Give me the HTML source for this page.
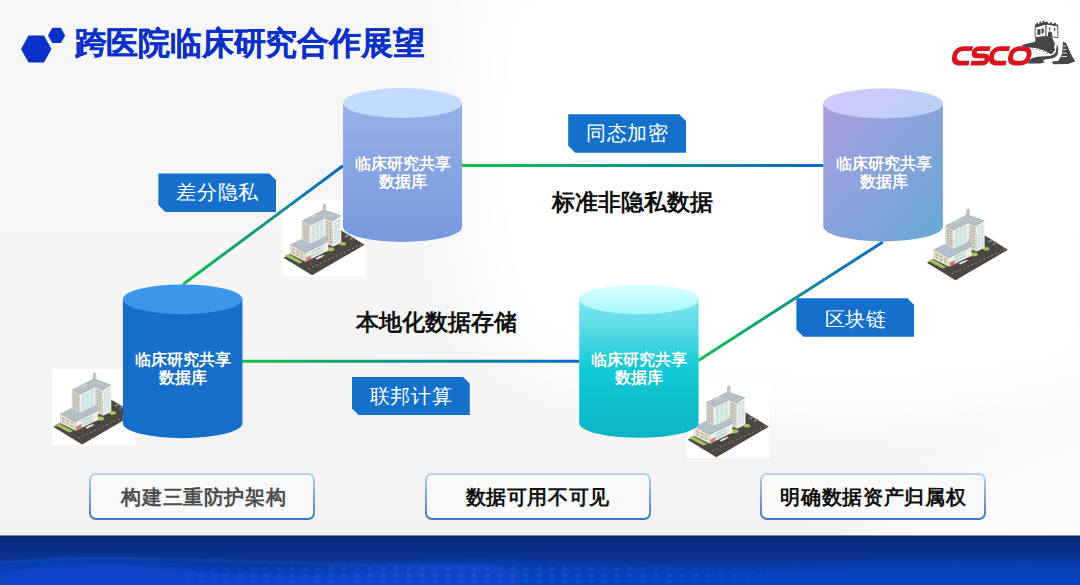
<!DOCTYPE html>
<html><head><meta charset="utf-8">
<style>
*{margin:0;padding:0;box-sizing:border-box}
html,body{width:1080px;height:585px;overflow:hidden}
body{position:relative;font-family:"Liberation Sans",sans-serif;background:#f5f5f5}
#bg{position:absolute;left:0;top:0;width:1080px;height:536px;background:linear-gradient(180deg,#f7f7f7 0%,#f5f5f5 60%,#f2f2f2 100%)}
svg.full{position:absolute;left:0;top:0}
.t{position:absolute;white-space:nowrap;line-height:1}
.title{left:74.5px;top:28.4px;font-size:31.5px;font-weight:bold;color:#0a30c8;letter-spacing:-0.2px;-webkit-text-stroke:0.25px #0a30c8}
.cyl{position:absolute;color:#fff;font-size:15.6px;font-weight:700;text-align:center;line-height:18px;width:120px;text-shadow:0 0 1px rgba(0,0,0,.15)}
.lab{position:absolute;width:118px;height:38.5px;background:#1470cb;color:#fff;font-size:20.4px;letter-spacing:0.6px;text-indent:0.6px;line-height:38.5px;text-align:center;
 clip-path:polygon(0 0,calc(100% - 7px) 0,100% 7px,100% 100%,7px 100%,0 calc(100% - 7px))}
.bold{position:absolute;font-size:22.6px;font-weight:bold;color:#111;line-height:1}
.box{position:absolute;top:473px;width:226px;height:47px;border-radius:7px;
 background:linear-gradient(#fafafa,#f9f9f9);
 border:2px solid transparent;
 background-image:linear-gradient(#f9f9f9,#f9f9f9),linear-gradient(#b9d5f5,#3f78c0);
 background-origin:border-box;background-clip:padding-box,border-box;
 font-size:20.4px;letter-spacing:0.66px;text-indent:0.66px;font-weight:bold;text-align:center;line-height:44px}
#band{position:absolute;left:0;top:536px;width:1080px;height:49px;
 background:linear-gradient(180deg,#0a2b78 0%,#0a2f84 25%,#0a3596 50%,#0a3caa 75%,#0942b8 100%)}
</style></head>
<body>
<div id="bg"></div>
<svg class="full" width="1080" height="536" viewBox="0 0 1080 536">
 <defs><filter id="wb" x="-20%" y="-20%" width="140%" height="140%"><feGaussianBlur stdDeviation="28"/></filter></defs>
 <path d="M480,-40 L1120,-40 L1120,385 C990,425 830,425 720,412 C630,402 560,385 505,355 C455,290 450,140 480,-40 Z" fill="#ffffff" filter="url(#wb)"/>
 <path d="M850,530 C940,470 1010,440 1120,400 L1120,560 L850,560 Z" fill="#ffffff" opacity=".7" filter="url(#wb)"/>
</svg>
<svg class="full" width="1080" height="585" viewBox="0 0 1080 585">
 <defs>
  <linearGradient id="lg1" x1="0" y1="0" x2="1" y2="0"><stop offset="0" stop-color="#12c24a"/><stop offset="1" stop-color="#0a68c8"/></linearGradient>
  <linearGradient id="gA" gradientUnits="userSpaceOnUse" x1="183" y1="284" x2="342" y2="166"><stop offset="0" stop-color="#12c24a"/><stop offset="1" stop-color="#0a68c8"/></linearGradient>
  <linearGradient id="gB" gradientUnits="userSpaceOnUse" x1="461" y1="0" x2="823" y2="0"><stop offset="0" stop-color="#12c24a"/><stop offset="1" stop-color="#0a68c8"/></linearGradient>
  <linearGradient id="gC" gradientUnits="userSpaceOnUse" x1="242" y1="0" x2="579" y2="0"><stop offset="0" stop-color="#12c24a"/><stop offset="1" stop-color="#0a68c8"/></linearGradient>
  <linearGradient id="gD" gradientUnits="userSpaceOnUse" x1="698" y1="360" x2="883" y2="242"><stop offset="0" stop-color="#12c24a"/><stop offset="1" stop-color="#0a68c8"/></linearGradient>
  <!-- cylinder gradients -->
  <linearGradient id="c1b" x1="0" y1="0" x2="0" y2="1"><stop offset="0" stop-color="#98b0e6"/><stop offset="1" stop-color="#7699df"/></linearGradient>
  <linearGradient id="c2b" x1="0" y1="0" x2="1" y2="1"><stop offset="0" stop-color="#aa9ee0"/><stop offset="1" stop-color="#66a8d4"/></linearGradient>
  <linearGradient id="c2t" x1="0" y1="0" x2="1" y2="0.3"><stop offset="0" stop-color="#d3c8fc"/><stop offset=".5" stop-color="#c8cbfc"/><stop offset="1" stop-color="#bcd0f8"/></linearGradient>
  <linearGradient id="c4b" x1="0" y1="0" x2="0" y2="1"><stop offset="0" stop-color="#7ee6ee"/><stop offset=".2" stop-color="#5edbe6"/><stop offset=".5" stop-color="#10cad6"/><stop offset="1" stop-color="#0bb4c4"/></linearGradient>
  <linearGradient id="c4t" x1="0" y1="0" x2="0" y2="1"><stop offset="0" stop-color="#defcfe"/><stop offset="1" stop-color="#a6f9fd"/></linearGradient>
  <g id="bld">
   <rect x="0" y="0" width="83" height="76" fill="#ffffff"/>
   <polygon points="1.3,57.8 29.9,75.3 82.4,44.8 53.9,27.3" fill="#4d4742"/>
   <g stroke="#d6d2ca" stroke-width="0.6" stroke-dasharray="1.4 3"><line x1="26" y1="69" x2="80" y2="44"/></g>
   <polygon points="62,36.5 66,34.2 67.8,35.2 63.8,37.5" fill="#8a8f95"/>
   <polygon points="66.5,39 70.5,36.7 72.3,37.7 68.3,40" fill="#7d838a"/>
   <polygon points="42.8,18.2 50.6,21.4 50.6,46.7 42.8,43.0" fill="#ddd8c9"/>
   <polygon points="50.6,21.4 59.1,16.2 59.1,42.8 50.6,46.7" fill="#f1f0ea"/>
   <g fill="#bfdedf"><polygon points="52.1,22.6 54.4,21.2 54.4,23.2 52.1,24.6"/><polygon points="55.3,20.6 57.6,19.2 57.6,21.3 55.3,22.6"/><polygon points="52.1,25.7 54.4,24.4 54.4,26.4 52.1,27.8"/><polygon points="55.3,23.8 57.6,22.4 57.6,24.4 55.3,25.8"/><polygon points="52.1,28.9 54.4,27.5 54.4,29.6 52.1,31.0"/><polygon points="55.3,26.9 57.6,25.6 57.6,27.6 55.3,29.0"/><polygon points="52.1,32.1 54.4,30.7 54.4,32.8 52.1,34.2"/><polygon points="55.3,30.1 57.6,28.7 57.6,30.8 55.3,32.2"/><polygon points="52.1,35.3 54.4,33.9 54.4,36.0 52.1,37.3"/><polygon points="55.3,33.3 57.6,31.9 57.6,34.0 55.3,35.4"/><polygon points="52.1,38.5 54.4,37.1 54.4,39.1 52.1,40.5"/><polygon points="55.3,36.5 57.6,35.1 57.6,37.2 55.3,38.5"/><polygon points="52.1,41.6 54.4,40.3 54.4,42.3 52.1,43.7"/><polygon points="55.3,39.7 57.6,38.3 57.6,40.3 55.3,41.7"/></g>
   <g fill="#aab0aa"><polygon points="44.4,21.0 46.2,21.7 46.2,23.6 44.4,22.8"/><polygon points="47.2,22.1 49.0,22.9 49.0,24.7 47.2,24.0"/><polygon points="44.4,24.1 46.2,24.8 46.2,26.7 44.4,25.9"/><polygon points="47.2,25.2 49.0,26.0 49.0,27.9 47.2,27.1"/><polygon points="44.4,27.2 46.2,27.9 46.2,29.8 44.4,29.1"/><polygon points="47.2,28.3 49.0,29.1 49.0,31.0 47.2,30.2"/><polygon points="44.4,30.3 46.2,31.1 46.2,32.9 44.4,32.2"/><polygon points="47.2,31.5 49.0,32.2 49.0,34.1 47.2,33.3"/><polygon points="44.4,33.4 46.2,34.2 46.2,36.1 44.4,35.3"/><polygon points="47.2,34.6 49.0,35.3 49.0,37.2 47.2,36.5"/><polygon points="44.4,36.5 46.2,37.3 46.2,39.2 44.4,38.4"/><polygon points="47.2,37.7 49.0,38.5 49.0,40.3 47.2,39.6"/><polygon points="44.4,39.7 46.2,40.4 46.2,42.3 44.4,41.5"/><polygon points="47.2,40.8 49.0,41.6 49.0,43.4 47.2,42.7"/></g>
   <polygon points="2.5,56 17,63.5 21,62 6,54" fill="#9cc35f"/>
   <ellipse cx="48" cy="49.3" rx="4" ry="2" fill="#a2c766"/>
   <ellipse cx="60.5" cy="43.8" rx="3.4" ry="1.8" fill="#a2c766"/>
   <ellipse cx="44" cy="51" rx="1.6" ry="1" fill="#d9954f"/>
   <polygon points="7.5,44.8 23.4,52.6 23.4,61.7 7.5,54.0" fill="#e6dfcd"/>
   <polygon points="23.4,52.6 46.1,41.5 46.1,50.6 23.4,61.7" fill="#f0ede4"/>
   <polygon points="7.5,44.8 30.2,33.7 42.8,35.9 46.1,38.6 46.1,41.5 23.4,52.6" fill="#aab8c3"/>
   <polygon points="8.8,44.8 30.2,34.4 42.6,36.6 45.2,39 45.2,41.5 23.4,51.8" fill="#b3c0ca"/>
   <g fill="#acd6d6"><polygon points="29.3,51.4 31.1,50.5 31.1,52.8 29.3,53.7"/><polygon points="31.6,50.3 33.4,49.4 33.4,51.7 31.6,52.5"/><polygon points="33.8,49.2 35.7,48.3 35.7,50.6 33.8,51.4"/><polygon points="36.1,48.1 37.9,47.2 37.9,49.4 36.1,50.3"/><polygon points="38.4,47.0 40.2,46.1 40.2,48.3 38.4,49.2"/><polygon points="29.3,54.9 31.1,54.0 31.1,56.2 29.3,57.1"/><polygon points="31.6,53.8 33.4,52.9 33.4,55.1 31.6,56.0"/><polygon points="33.8,52.6 35.7,51.8 35.7,54.0 33.8,54.9"/><polygon points="36.1,51.5 37.9,50.7 37.9,52.9 36.1,53.8"/><polygon points="38.4,50.4 40.2,49.5 40.2,51.8 38.4,52.7"/></g>
   <g fill="#b5b1a3"><polygon points="9.9,48.1 12.5,49.3 12.5,51.1 9.9,49.9"/><polygon points="14.2,50.2 16.7,51.4 16.7,53.2 14.2,52.0"/><polygon points="18.4,52.3 21.0,53.5 21.0,55.3 18.4,54.0"/><polygon points="9.9,51.3 12.5,52.6 12.5,54.3 9.9,53.1"/><polygon points="14.2,53.4 16.7,54.6 16.7,56.4 14.2,55.2"/><polygon points="18.4,55.5 21.0,56.7 21.0,58.5 18.4,57.3"/></g>
   <polygon points="24,57.5 29,55 29,59.2 24,61.6" fill="#c98078"/>
   <polygon points="33,58.5 37.5,56 39.5,57 35,59.6" fill="#ececec"/>
   <polygon points="36.5,57 40.5,54.8 42.2,55.8 38.2,58" fill="#dedede"/>
   <polygon points="19.5,20.8 27.9,25.3 27.9,43.5 19.5,39.3" fill="#dcd7c7"/>
   <polygon points="27.9,25.3 42.8,18.2 42.8,36.2 27.9,43.5" fill="#f2f1ea"/>
   <g fill="#bcdfe0"><polygon points="29.5,25.8 32.8,24.2 32.8,25.8 29.5,27.4"/><polygon points="33.7,23.8 37.0,22.2 37.0,23.9 33.7,25.4"/><polygon points="37.9,21.8 41.2,20.2 41.2,21.9 37.9,23.5"/><polygon points="29.5,28.1 32.8,26.5 32.8,28.2 29.5,29.8"/><polygon points="33.7,26.1 37.0,24.6 37.0,26.2 33.7,27.8"/><polygon points="37.9,24.2 41.2,22.6 41.2,24.2 37.9,25.8"/><polygon points="29.5,30.5 32.8,28.9 32.8,30.5 29.5,32.1"/><polygon points="33.7,28.5 37.0,26.9 37.0,28.5 33.7,30.1"/><polygon points="37.9,26.5 41.2,24.9 41.2,26.5 37.9,28.1"/><polygon points="29.5,32.8 32.8,31.2 32.8,32.9 29.5,34.5"/><polygon points="33.7,30.8 37.0,29.2 37.0,30.9 33.7,32.5"/><polygon points="37.9,28.8 41.2,27.2 41.2,28.9 37.9,30.5"/><polygon points="29.5,35.2 32.8,33.6 32.8,35.2 29.5,36.8"/><polygon points="33.7,33.2 37.0,31.6 37.0,33.2 33.7,34.8"/><polygon points="37.9,31.2 41.2,29.6 41.2,31.2 37.9,32.8"/><polygon points="29.5,37.5 32.8,35.9 32.8,37.5 29.5,39.1"/><polygon points="33.7,35.5 37.0,33.9 37.0,35.6 33.7,37.1"/><polygon points="37.9,33.5 41.2,31.9 41.2,33.6 37.9,35.2"/><polygon points="29.5,39.8 32.8,38.2 32.8,39.9 29.5,41.5"/><polygon points="33.7,37.8 37.0,36.3 37.0,37.9 33.7,39.5"/><polygon points="37.9,35.9 41.2,34.3 41.2,35.9 37.9,37.5"/></g>
   <g fill="#a9aea8"><polygon points="21.2,23.1 23.2,24.2 23.2,25.6 21.2,24.5"/><polygon points="24.2,24.7 26.2,25.8 26.2,27.2 24.2,26.2"/><polygon points="21.2,25.5 23.2,26.5 23.2,28.0 21.2,26.9"/><polygon points="24.2,27.1 26.2,28.2 26.2,29.6 24.2,28.5"/><polygon points="21.2,27.9 23.2,28.9 23.2,30.4 21.2,29.3"/><polygon points="24.2,29.5 26.2,30.5 26.2,32.0 24.2,30.9"/><polygon points="21.2,30.2 23.2,31.3 23.2,32.7 21.2,31.7"/><polygon points="24.2,31.9 26.2,32.9 26.2,34.4 24.2,33.3"/><polygon points="21.2,32.6 23.2,33.7 23.2,35.1 21.2,34.1"/><polygon points="24.2,34.2 26.2,35.3 26.2,36.7 24.2,35.7"/><polygon points="21.2,35.0 23.2,36.1 23.2,37.5 21.2,36.4"/><polygon points="24.2,36.6 26.2,37.7 26.2,39.1 24.2,38.1"/><polygon points="21.2,37.4 23.2,38.4 23.2,39.9 21.2,38.8"/><polygon points="24.2,39.0 26.2,40.1 26.2,41.5 24.2,40.4"/></g>
   <polygon points="19.5,20.8 41.5,9.5 59.1,15.6 50.6,21.4 42.8,18.2 27.9,25.3" fill="#a5b2bb"/>
   <polygon points="21.2,20.7 41.5,10.3 57.3,15.8 50.6,20.3 42.8,17 27.9,24" fill="#b6c1c9"/>
   <polygon points="28,17 33,14.5 35.5,15.8 30.5,18.3" fill="#c8d0d4"/>
   <polygon points="40.3,9.8 40.8,4.5 42.5,3.2 44,4.5 44.2,10" fill="#c4c2b6"/>
  </g>
 </defs>

 <!-- buildings -->
 <use href="#bld" x="282.2" y="200"/>
 <use href="#bld" x="925.6" y="205"/>
 <use href="#bld" x="52.2" y="369.1"/>
 <use href="#bld" x="686.4" y="382"/>

 <!-- lines -->
 <line x1="183.2" y1="284.2" x2="343" y2="165.8" stroke="url(#gA)" stroke-width="3"/>
 <line x1="461" y1="165.4" x2="823.5" y2="165.4" stroke="url(#gB)" stroke-width="3"/>
 <line x1="241" y1="361.3" x2="579.5" y2="361.3" stroke="url(#gC)" stroke-width="3"/>
 <line x1="698.4" y1="360.4" x2="882.8" y2="242" stroke="url(#gD)" stroke-width="3"/>

 <!-- C1 top-left -->
 <path d="M343,103 L343,227 A59.5,15 0 0 0 462,227 L462,103 Z" fill="url(#c1b)"/>
 <ellipse cx="402.5" cy="103" rx="59.5" ry="15" fill="#c3dbfd"/>
 <!-- C2 top-right -->
 <path d="M823.3,103.5 L823.3,226.5 A59.8,15 0 0 0 942.9,226.5 L942.9,103.5 Z" fill="url(#c2b)"/>
 <ellipse cx="883.1" cy="103.5" rx="59.8" ry="15" fill="url(#c2t)"/>
 <!-- C3 bottom-left -->
 <path d="M122.9,299.3 L122.9,423.2 A59.75,15 0 0 0 242.4,423.2 L242.4,299.3 Z" fill="#156fca"/>
 <ellipse cx="182.65" cy="299.3" rx="59.75" ry="14.9" fill="#3a97eb"/>
 <!-- C4 bottom-middle -->
 <path d="M579.2,299.3 L579.2,423 A59.7,14.8 0 0 0 698.6,423 L698.6,299.3 Z" fill="url(#c4b)"/>
 <ellipse cx="638.9" cy="299.3" rx="59.7" ry="14.9" fill="url(#c4t)"/>

 <!-- hex icons -->
 <polygon points="21,49 28.5,35.5 44,35.5 51.5,49 44,62.5 28.5,62.5" fill="#0b32c8"/>
 <polygon points="48,35.4 52.3,27.8 60.9,27.8 65.2,35.4 60.9,43 52.3,43" fill="#0b32c8"/>
</svg>

<div class="t title">跨医院临床研究合作展望</div>

<!-- logo -->

<svg class="full" width="1080" height="585" viewBox="0 0 1080 585" style="pointer-events:none">
 <g fill="none" stroke="#d8141e" stroke-width="4.8" transform="translate(0,56) skewX(-12) translate(0,-56)">
  <path d="M971,48.7 L962.5,48.7 C956.5,48.7 954.6,51.5 954.6,55.9 C954.6,60.3 956.5,63.1 962.5,63.1 L970.5,63.1"/>
  <path d="M988.5,48.7 L978,48.7 C974.5,48.7 973.4,50.3 973.4,52.3 C973.4,54.3 974.5,55.9 978,55.9 L983.3,55.9 C986.8,55.9 987.8,57.5 987.8,59.5 C987.8,61.5 986.8,63.1 983.3,63.1 L972.5,63.1"/>
  <path d="M1008,48.7 L999.5,48.7 C993.5,48.7 991.6,51.5 991.6,55.9 C991.6,60.3 993.5,63.1 999.5,63.1 L1007.5,63.1"/>
  <path d="M1018,48.7 L1021.5,48.7 C1027,48.7 1028.8,51.5 1028.8,55.9 C1028.8,60.3 1027,63.1 1021.5,63.1 L1018,63.1 C1012.5,63.1 1010.7,60.3 1010.7,55.9 C1010.7,51.5 1012.5,48.7 1018,48.7 Z"/>
 </g>
 <g fill="#474545">
  <path d="M1021.5,45.6 C1026,43.5 1032,42.8 1035.3,41.5 L1035.3,37.6 L1046,36.2 L1052.5,37.8 L1053.5,41 L1055,43.5 L1054,47 L1055,50 L1052,54 L1049,53.5 C1046,51 1040,48.5 1032,47.8 C1027,47.5 1024,46.8 1021.5,45.6 Z"/>
  <path d="M1027,63.4 L1030.5,59 C1034,56.8 1040,56 1046,56.2 C1050,56 1054,55.2 1055.8,52 L1057,44 L1058.2,48 L1057.8,54 C1056,57.8 1052,59 1046,59.2 L1043,60.2 L1044.5,62.6 L1040,63.6 Z"/>
  <path d="M1063,41.5 L1066,43 L1068,47 L1070,52 L1072,56 L1075.2,61.5 L1072,62.4 L1068,64 L1053,64.2 L1052,61.6 L1058,61 L1060,58 L1062,54 L1062.5,48 Z"/>
 </g>
 <g stroke="#fff" stroke-width="0.8">
  <line x1="1063" y1="46" x2="1066" y2="46"/>
  <line x1="1063" y1="49.5" x2="1066.5" y2="49.5"/>
  <line x1="1062.5" y1="53" x2="1067" y2="53"/>
  <line x1="1061.5" y1="56.5" x2="1067" y2="56.5"/>
 </g>
 <g fill="#474545">
  <circle cx="1033" cy="49" r="0.6"/><circle cx="1036.5" cy="49.5" r="0.6"/><circle cx="1040" cy="50.3" r="0.6"/><circle cx="1043.5" cy="51.5" r="0.6"/><circle cx="1047" cy="53" r="0.6"/>
 </g>
 <g stroke="#474545" stroke-width="0.9" fill="#fff">
  <polygon points="1035.2,27.2 1046,23.9 1046,36.2 1035.2,37.6"/>
  <polygon points="1046,23.9 1057.8,25.8 1057.8,37.6 1046,36.2"/>
 </g>
 <g fill="#474545">
  <path d="M1035,27.5 L1035,24.5 L1036.5,24.2 L1036.5,23 L1038,22.6 L1038,24 L1039.5,23.5 L1039.5,22 L1041,21.6 L1041,23 L1042.5,22.5 L1042.5,21 L1044,20.5 L1044,22 L1046,21.5 L1046,24.2 Z"/>
  <path d="M1046,24.2 L1046,21.8 L1048,22 L1048,23.2 L1050,23.4 L1050,22.2 L1052,22.5 L1052,23.8 L1054,24 L1054,22.8 L1056,23.2 L1056,24.4 L1058,24.6 L1058,26.2 Z"/>
  <rect x="1037.3" y="29.2" width="3.2" height="5.6"/>
  <rect x="1041.6" y="28.4" width="2.2" height="5"/>
  <path d="M1048,37 L1048,33 C1049,31 1051.5,31 1052.2,33.5 L1052.2,37.5 Z"/>
  <rect x="1054" y="28" width="1.2" height="3"/>
  <rect x="1049" y="27.3" width="1.2" height="3"/>
 </g>
</svg>

<!-- cylinder texts -->
<div class="cyl" style="left:342.5px;top:155px">临床研究共享<br>数据库</div>
<div class="cyl" style="left:823.8px;top:155px">临床研究共享<br>数据库</div>
<div class="cyl" style="left:122.5px;top:350.7px">临床研究共享<br>数据库</div>
<div class="cyl" style="left:579px;top:350.7px">临床研究共享<br>数据库</div>

<!-- labels -->
<div class="lab" style="left:158.4px;top:173.4px">差分隐私</div>
<div class="lab" style="left:568.2px;top:114.2px">同态加密</div>
<div class="lab" style="left:796.4px;top:298.3px;padding-top:1.5px">区块链</div>
<div class="lab" style="left:351.8px;top:376.8px">联邦计算</div>

<div class="bold" style="left:551.5px;top:191.5px">标准非隐私数据</div>
<div class="bold" style="left:356px;top:311.5px">本地化数据存储</div>

<div class="box" style="left:88.75px;color:#4e4e4e;padding-left:3.5px">构建三重防护架构</div>
<div class="box" style="left:424.5px;color:#111">数据可用不可见</div>
<div class="box" style="left:760px;color:#111">明确数据资产归属权</div>

<div id="band"></div>
<svg class="full" width="1080" height="585" viewBox="0 0 1080 585">
 <defs>
  <filter id="bl" x="-10%" y="-50%" width="120%" height="200%"><feGaussianBlur stdDeviation="3"/></filter>
  <filter id="bl1" x="-5%" y="-50%" width="110%" height="200%"><feGaussianBlur stdDeviation="0.9"/></filter>
  <pattern id="dots" width="13" height="6.5" patternUnits="userSpaceOnUse"><ellipse cx="6" cy="3" rx="3.2" ry="1.3" fill="#4a7cf4"/></pattern>
  <radialGradient id="dm" cx="0.5" cy="0.5" r="0.5"><stop offset="0" stop-color="#fff" stop-opacity="1"/><stop offset="0.7" stop-color="#fff" stop-opacity=".6"/><stop offset="1" stop-color="#fff" stop-opacity="0"/></radialGradient>
  <mask id="dmask"><rect x="120" y="562" width="700" height="30" fill="url(#dm)"/></mask>
 </defs>
 <rect x="0" y="535.5" width="1080" height="1.2" fill="#17234a"/>
 <g filter="url(#bl)">
  <path d="M0,566 C40,558 90,557 140,561 C200,566 260,572 330,568 C400,563 460,560 540,563 C620,566 700,570 780,566 C860,562 960,560 1080,562 L1080,590 L0,590 Z" fill="#0842c6" opacity=".6"/>
  <path d="M0,572 C60,563 120,563 180,569 C240,575 300,578 360,572 C420,566 470,565 520,570 L520,590 L0,590 Z" fill="#0c4ad6" opacity=".45"/>
 </g>
 <path d="M0,563 C60,557 130,557 200,560 C300,564 400,566 500,567" stroke="#2a62e6" stroke-width="2" fill="none" opacity=".35" filter="url(#bl1)"/>
 <g mask="url(#dmask)"><rect x="120" y="566" width="700" height="20" fill="url(#dots)" opacity=".45" filter="url(#bl1)"/></g>
</svg>
</body></html>
